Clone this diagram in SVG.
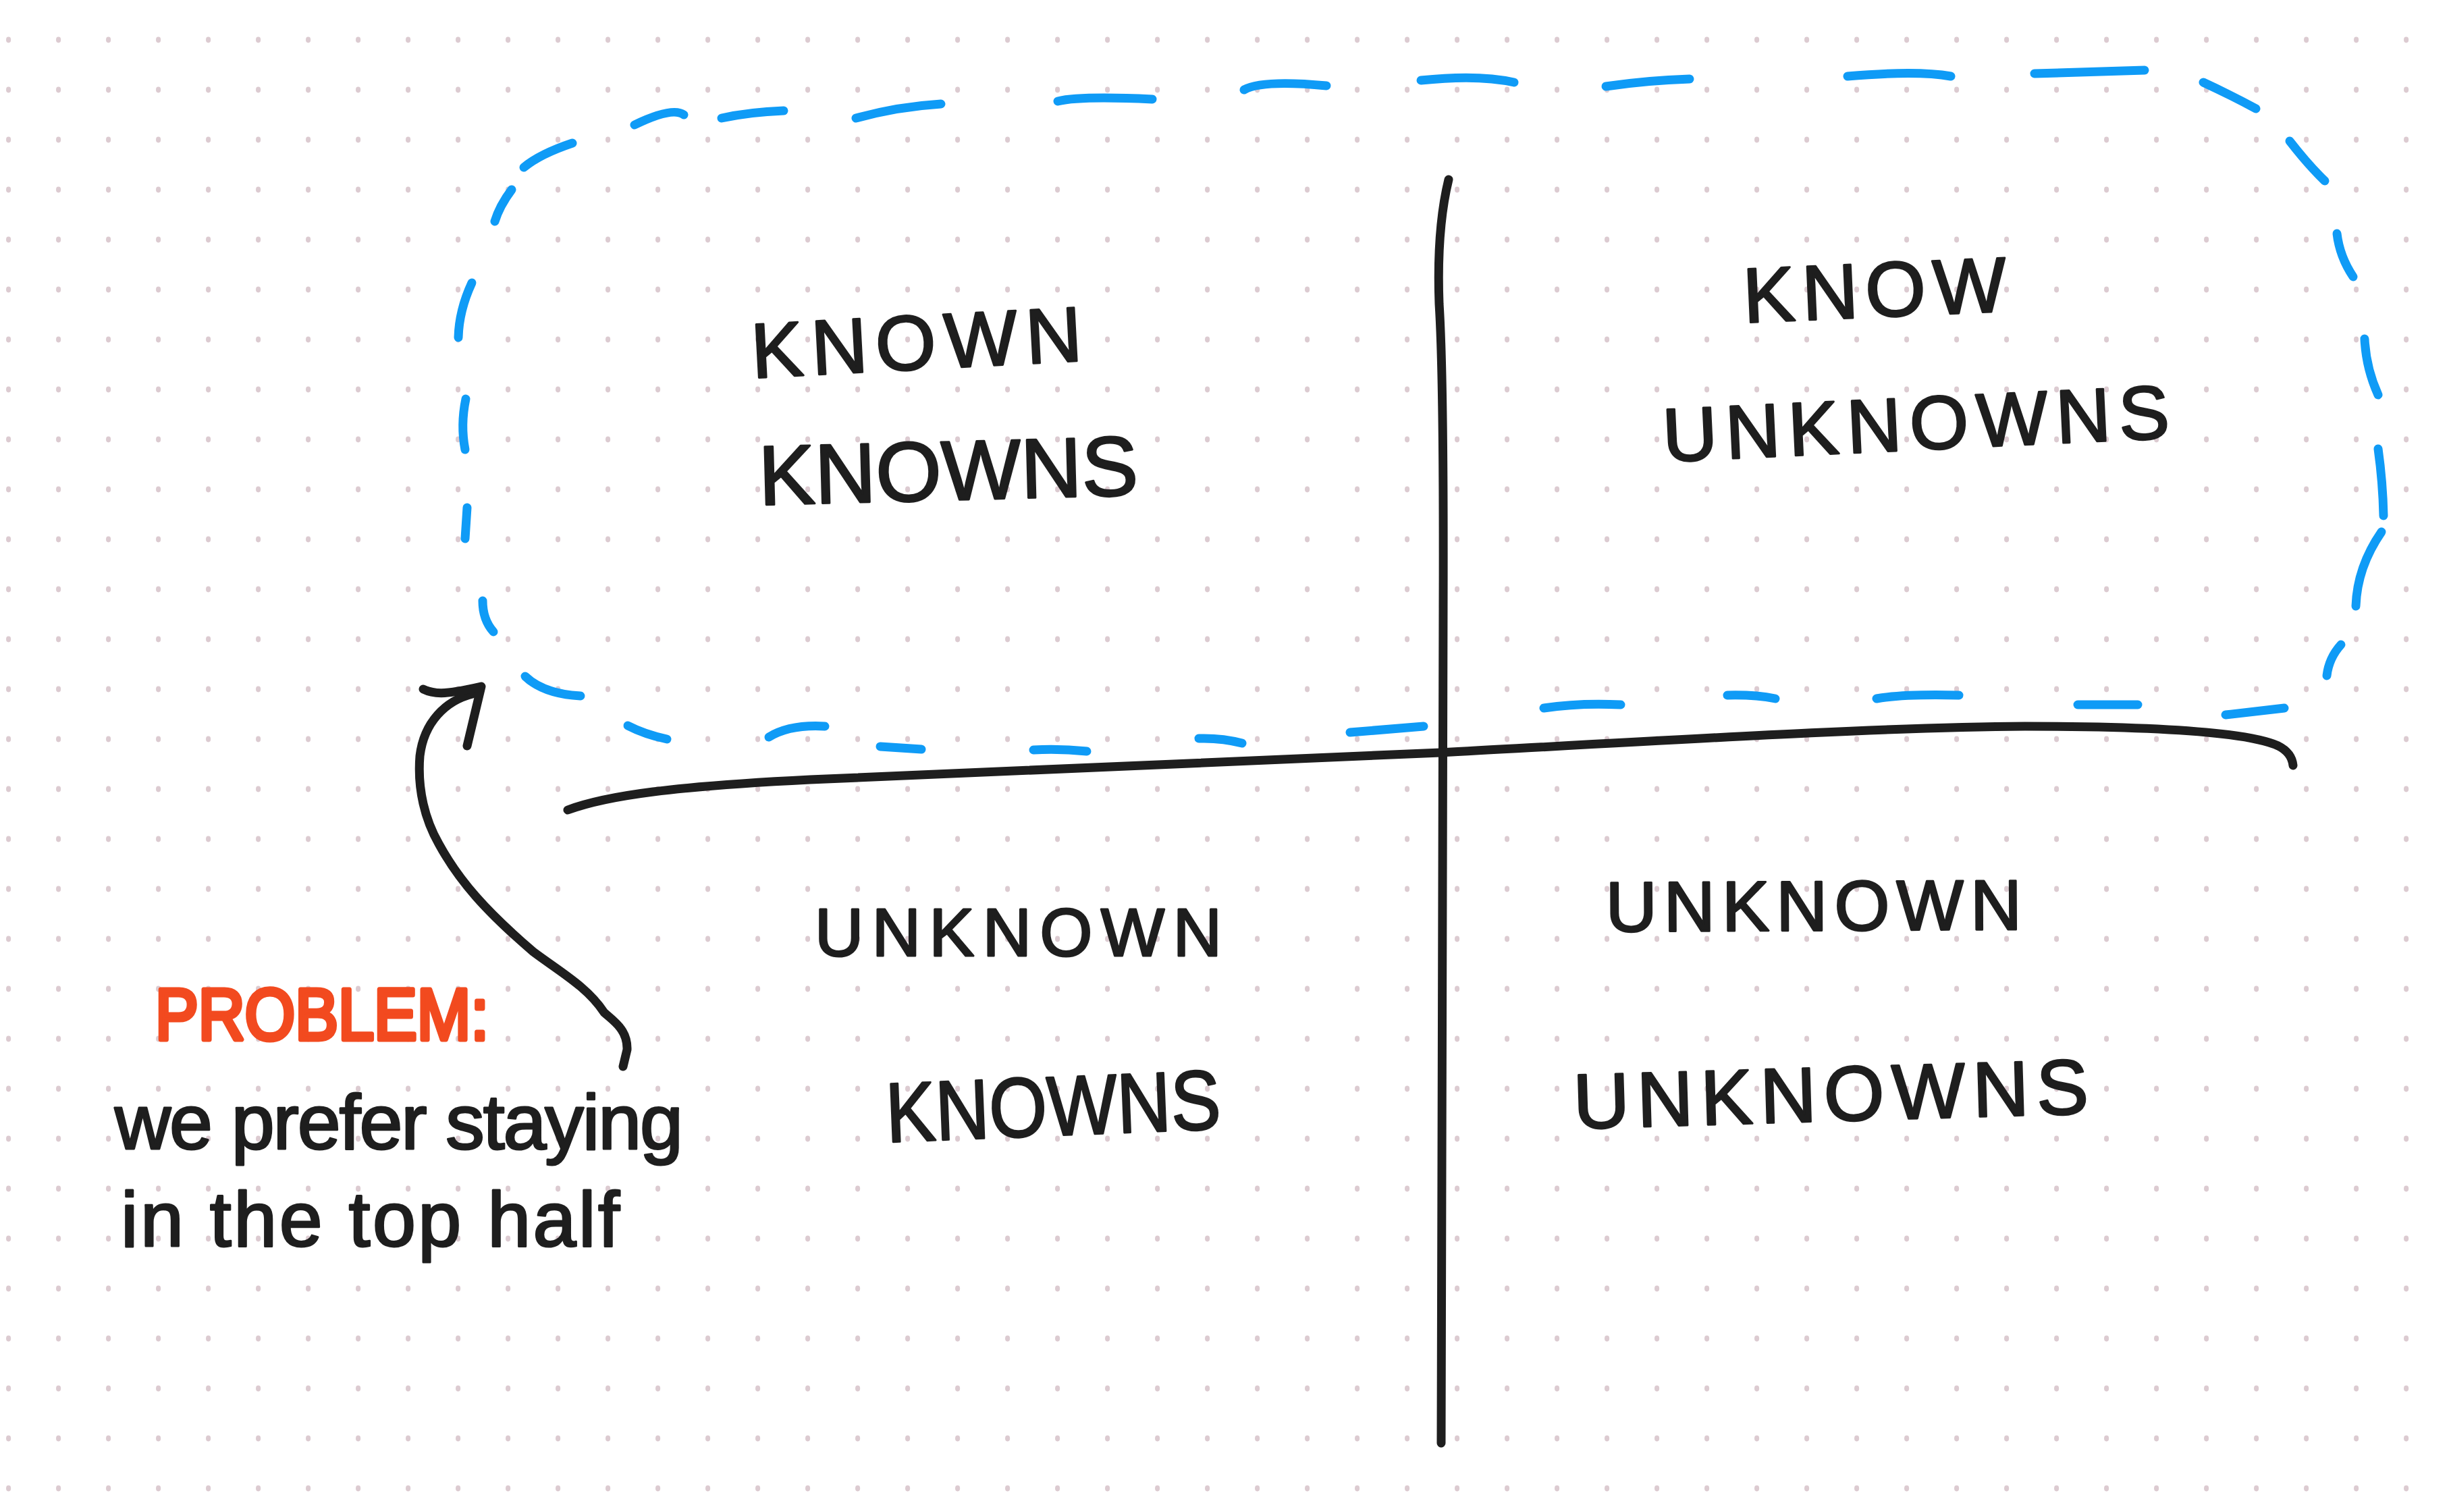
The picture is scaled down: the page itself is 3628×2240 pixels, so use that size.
<svg xmlns="http://www.w3.org/2000/svg" width="3628" height="2240" viewBox="0 0 3628 2240">
<defs>
<pattern id="dots" x="0" y="0" width="74" height="74" patternUnits="userSpaceOnUse">
<ellipse cx="12.6" cy="59" rx="3.6" ry="4.4" fill="#dccbd1"/>
</pattern>
<style>
.ink{fill:none;stroke:#1e1e1e;stroke-width:13;stroke-linecap:round;stroke-linejoin:round}
.dash{fill:none;stroke:#0f9bf6;stroke-width:13;stroke-linecap:round;stroke-linejoin:round}
.hw{font-family:"Liberation Sans","DejaVu Sans",sans-serif;fill:#1e1e1e;stroke:#1e1e1e;stroke-width:3;stroke-linejoin:round}
.red{font-family:"Liberation Sans","DejaVu Sans",sans-serif;fill:#f24a1f;stroke:#f24a1f;stroke-width:7;stroke-linejoin:round}
</style>
</defs>
<rect width="3628" height="2240" fill="#ffffff"/>
<rect width="3628" height="2240" fill="url(#dots)"/>

<g id="top-half-boundary">
<path class="dash" d="M940,185 Q996,158 1013,170"/>
<path class="dash" d="M1069,175 Q1110,166 1161,164"/>
<path class="dash" d="M1268,175 Q1330,158 1394,154"/>
<path class="dash" d="M1567,150 Q1600,142 1707,147"/>
<path class="dash" d="M1843,133 Q1870,118 1965,127"/>
<path class="dash" d="M2105,119 Q2190,110 2243,122"/>
<path class="dash" d="M2379,128 Q2440,119 2503,117"/>
<path class="dash" d="M2737,113 Q2840,104 2890,113"/>
<path class="dash" d="M3014,109 L3177,104"/>
<path class="dash" d="M3264,122 Q3305,141 3342,161"/>
<path class="dash" d="M3392,209 Q3420,245 3444,268"/>
<path class="dash" d="M3462,346 Q3466,380 3486,410"/>
<path class="dash" d="M3503,502 Q3505,545 3523,585"/>
<path class="dash" d="M3523,665 Q3530,715 3531,764"/>
<path class="dash" d="M3528,788 Q3492,840 3490,898"/>
<path class="dash" d="M3468,955 Q3450,975 3447,1001"/>
<path class="dash" d="M3384,1049 L3297,1059"/>
<path class="dash" d="M3167,1044 L3078,1044"/>
<path class="dash" d="M2902,1030 Q2820,1028 2780,1035"/>
<path class="dash" d="M2630,1035 Q2600,1029 2559,1030"/>
<path class="dash" d="M2401,1044 Q2340,1041 2287,1049"/>
<path class="dash" d="M2109,1076 Q2060,1080 2000,1085"/>
<path class="dash" d="M1840,1101 Q1810,1093 1776,1094"/>
<path class="dash" d="M1610,1113 Q1570,1109 1531,1111"/>
<path class="dash" d="M1365,1110 L1304,1106"/>
<path class="dash" d="M1222,1076 Q1170,1073 1139,1092"/>
<path class="dash" d="M988,1095 Q955,1088 930,1075"/>
<path class="dash" d="M860,1031 Q805,1028 778,1002"/>
<path class="dash" d="M731,936 Q715,918 715,890"/>
<path class="dash" d="M692,752 L689,798"/>
<path class="dash" d="M690,591 Q682,630 689,666"/>
<path class="dash" d="M699,419 Q680,460 679,500"/>
<path class="dash" d="M758,281 Q740,305 733,328"/>
<path class="dash" d="M848,212 Q800,228 776,248"/>
</g>

<g id="axes">
<path class="ink" d="M2146,266 Q2128,340 2132,450 Q2139,560 2138,900 L2135,2138"/>
<path class="ink" d="M841,1200 C900,1178 1000,1165 1200,1155 L2134,1115 C2500,1095 2800,1077 3000,1076 C3200,1076 3330,1085 3375,1105 Q3395,1115 3397,1134"/>
</g>

<g id="known-knowns">
<text class="hw" font-size="115" x="1115" y="560" textLength="490" lengthAdjust="spacing" transform="rotate(-3 1115 560)">KNOWN</text>
<text class="hw" font-size="125" x="1125" y="748" textLength="562" lengthAdjust="spacing" transform="rotate(-1.5 1125 748)">KNOWNS</text>
</g>

<g id="known-unknowns">
<text class="hw" font-size="115" x="2584" y="478" textLength="390" lengthAdjust="spacing" transform="rotate(-2.5 2584 478)">KNOW</text>
<text class="hw" font-size="112" x="2465" y="684" textLength="751" lengthAdjust="spacing" transform="rotate(-2.7 2465 684)">UNKNOWNS</text>
</g>

<g id="unknown-knowns">
<text class="hw" font-size="100" x="1207" y="1416" textLength="603" lengthAdjust="spacing">UNKNOWN</text>
<text class="hw" font-size="125" x="1314" y="1692" textLength="496" lengthAdjust="spacingAndGlyphs" transform="rotate(-2.3 1314 1692)">KNOWNS</text>
</g>

<g id="unknown-unknowns">
<text class="hw" font-size="105" x="2379" y="1380" textLength="616" lengthAdjust="spacing" transform="rotate(-0.3 2379 1380)">UNKNOWN</text>
<text class="hw" font-size="115" x="2332" y="1672" textLength="763" lengthAdjust="spacing" transform="rotate(-1.7 2332 1672)">UNKNOWNS</text>
</g>

<g id="problem-note">
<text class="red" font-size="108" x="230" y="1540" textLength="494" lengthAdjust="spacingAndGlyphs">PROBLEM:</text>
<text class="hw" font-size="115" x="170" y="1702" textLength="842" lengthAdjust="spacing">we prefer staying</text>
<text class="hw" font-size="115" x="179" y="1846" textLength="739" lengthAdjust="spacing">in the top half</text>
</g>

<g id="connectors">
<path class="ink" d="M700,1028 C660,1038 628,1070 622,1120 C618,1170 630,1215 650,1250 C680,1305 720,1350 790,1410 C830,1440 870,1462 895,1500 C908,1512 930,1525 929,1555 L923,1580"/>
<path class="ink" d="M627,1021 C645,1030 665,1028 713,1017 L692,1105"/>
</g>
</svg>
